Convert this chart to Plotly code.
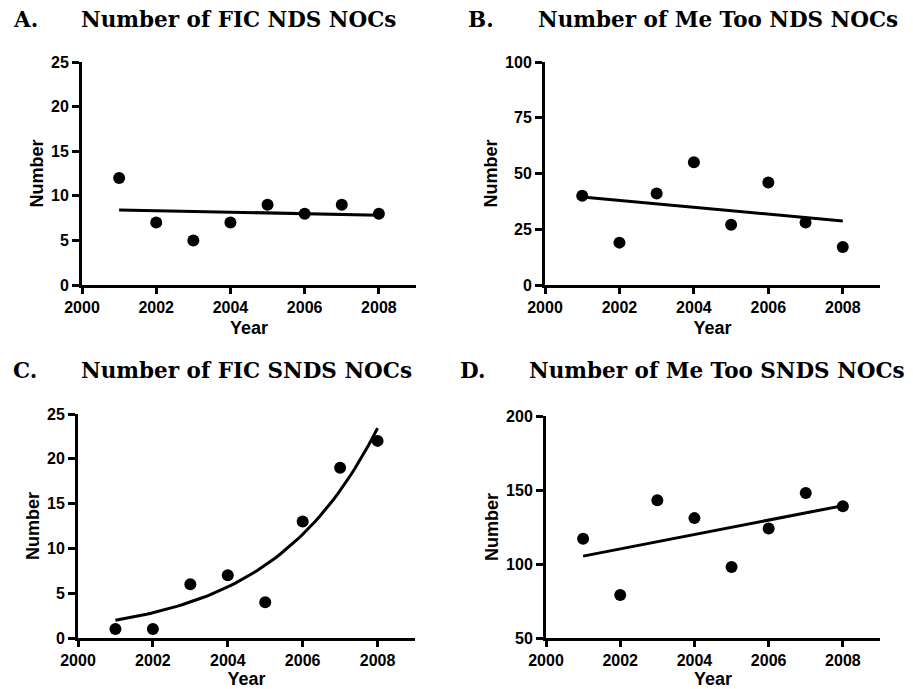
import numpy as np
import plotly.graph_objects as go

# ---------------- data ----------------
years = [2001, 2002, 2003, 2004, 2005, 2006, 2007, 2008]
fic_nds = [12, 7, 5, 7, 9, 8, 9, 8]
metoo_nds = [40, 19, 41, 55, 27, 46, 28, 17]
fic_snds = [1, 1, 6, 7, 4, 13, 19, 22]
metoo_snds = [117, 79, 143, 131, 98, 124, 148, 139]

panel_letters = ["A.", "B.", "C.", "D."]
panel_titles = ["Number of FIC NDS NOCs", "Number of Me Too NDS NOCs",
                "Number of FIC SNDS NOCs", "Number of Me Too SNDS NOCs"]
x_ticks = [2000, 2002, 2004, 2006, 2008]
y_ticks_a = [0, 5, 10, 15, 20, 25]
y_ticks_b = [0, 25, 50, 75, 100]
y_ticks_c = [0, 5, 10, 15, 20, 25]
y_ticks_d = [50, 100, 150, 200]


# ---------------- fits (computed from data) ----------------
def linear_fit(x, y):
    x = np.asarray(x, float); y = np.asarray(y, float)
    m, b = np.polyfit(x, y, 1)
    xs = np.array([x.min(), x.max()])
    return xs, m * xs + b


def exp_fit(x, y):
    x = np.asarray(x, float); y = np.asarray(y, float)
    t = x - x.min()
    k, la = np.polyfit(t, np.log(y), 1, w=np.sqrt(y))
    a = np.exp(la)
    for _ in range(50):  # Gauss-Newton refinement
        f = a * np.exp(k * t)
        J = np.column_stack([np.exp(k * t), a * t * np.exp(k * t)])
        step, *_ = np.linalg.lstsq(J, y - f, rcond=None)
        a += step[0]; k += step[1]
    xs = np.linspace(x.min(), x.max(), 60)
    return xs, a * np.exp(k * (xs - x.min()))


series = [fic_nds, metoo_nds, fic_snds, metoo_snds]
fits = [linear_fit(years, fic_nds), linear_fit(years, metoo_nds),
        exp_fit(years, fic_snds), linear_fit(years, metoo_snds)]
yticks = [y_ticks_a, y_ticks_b, y_ticks_c, y_ticks_d]
yranges = [[0, 25], [0, 100], [0, 25], [50, 200]]

W, H = 913, 689
# plot-area boxes in pixels: (left, right, top, bottom)
boxes = [(82, 416, 62, 285), (545, 880, 62, 285),
         (78, 415, 414, 638), (546, 880, 416, 638)]

fig = go.Figure()
tick_font = dict(family="Liberation Sans, Arial", size=16, color="black", weight="bold")
title_font = dict(family="Liberation Sans, Arial", size=18, color="black", weight="bold")

for i in range(4):
    xa = "x" if i == 0 else f"x{i+1}"
    ya = "y" if i == 0 else f"y{i+1}"
    fx, fy = fits[i]
    fig.add_trace(go.Scatter(x=fx, y=fy, mode="lines", xaxis=xa, yaxis=ya,
                             line=dict(color="black", width=3), showlegend=False,
                             hoverinfo="skip"))
    fig.add_trace(go.Scatter(x=years, y=series[i], mode="markers", xaxis=xa, yaxis=ya,
                             marker=dict(color="black", size=12), showlegend=False))
    l, r, t, b = boxes[i]
    xkey = "xaxis" if i == 0 else f"xaxis{i+1}"
    ykey = "yaxis" if i == 0 else f"yaxis{i+1}"
    fig.update_layout(**{
        xkey: dict(domain=[l / W, r / W], anchor=ya, range=[2000, 2009],
                   tickvals=x_ticks, ticks="outside", ticklen=6, tickwidth=2.5,
                   tickcolor="black", showline=True, linecolor="black", linewidth=3,
                   showgrid=False, zeroline=False, tickfont=tick_font,
                   automargin=False,
                   title=dict(text="Year", font=title_font, standoff=7)),
        ykey: dict(domain=[1 - b / H, 1 - t / H], anchor=xa, range=yranges[i],
                   tickvals=yticks[i], ticks="outside", ticklen=7, tickwidth=2.5,
                   tickcolor="black", showline=True, linecolor="black", linewidth=3,
                   showgrid=False, zeroline=False, tickfont=tick_font,
                   automargin=False,
                   title=dict(text="Number", font=title_font, standoff=3)),
    })

# panel letters and titles
letter_pos = [(11, 19), (466, 19), (11, 370), (458, 370)]
title_pos = [(79, 19), (536, 19), (79, 370), (527, 370)]
serif = dict(family="DejaVu Serif", size=21.5, color="black", weight="bold")
for i in range(4):
    lx, ly = letter_pos[i]
    tx, ty = title_pos[i]
    fig.add_annotation(text=panel_letters[i], x=lx / W, y=1 - ly / H, xref="paper",
                       yref="paper", xanchor="left", yanchor="middle",
                       showarrow=False, font=serif)
    fig.add_annotation(text=panel_titles[i], x=tx / W, y=1 - ty / H, xref="paper",
                       yref="paper", xanchor="left", yanchor="middle",
                       showarrow=False, font=serif)

fig.update_layout(width=W, height=H, margin=dict(l=0, r=0, t=0, b=0),
                  plot_bgcolor="white", paper_bgcolor="white")
fig.write_html("out.html", config={"displayModeBar": False},
               post_script="document.body.style.margin='0';")
